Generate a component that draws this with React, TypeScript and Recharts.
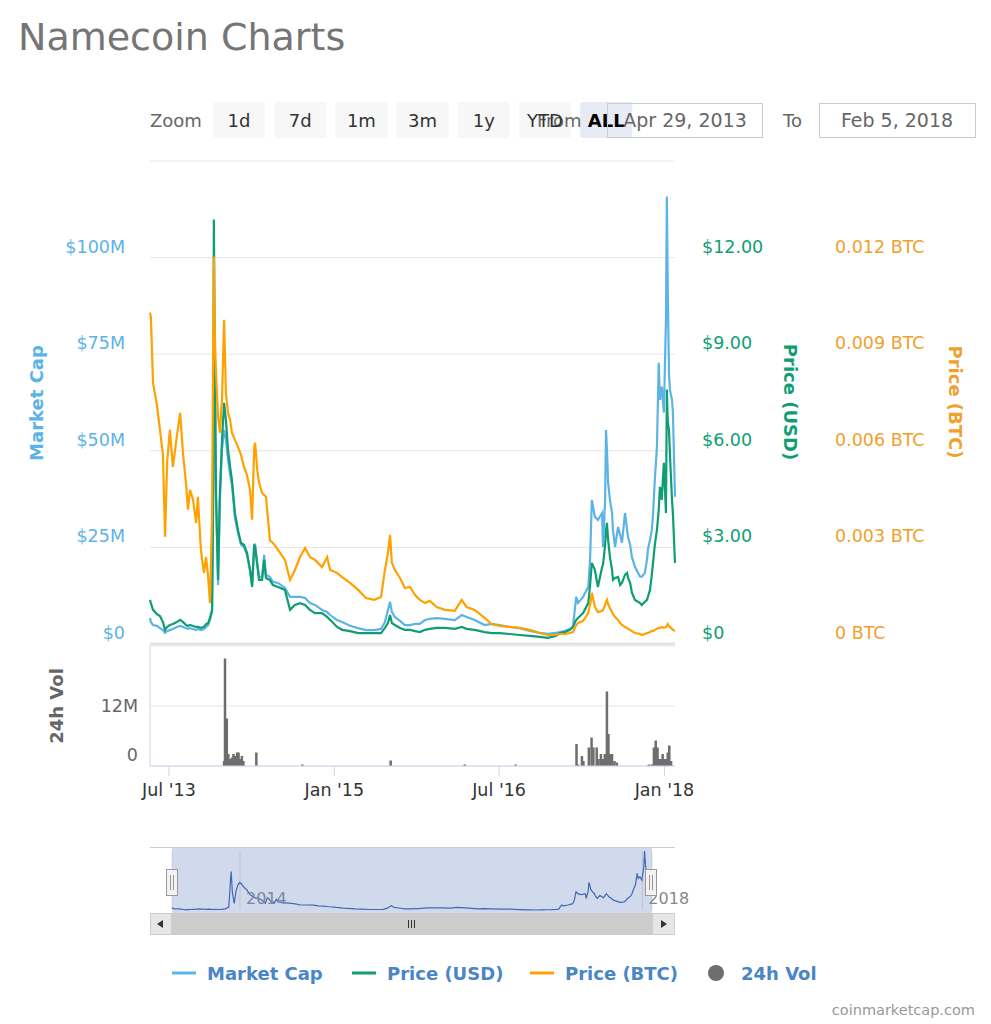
import React from "react";
import { LineChart, Line, XAxis, YAxis, CartesianGrid, ComposedChart, Bar, ReferenceLine } from "recharts";

// daily-ish samples
const dates = [
  "2013-04-29", "2013-05-02", "2013-05-09", "2013-05-22", "2013-06-01", "2013-06-11", "2013-06-18", "2013-06-25",
  "2013-07-04", "2013-07-14", "2013-07-27", "2013-08-07", "2013-08-17", "2013-08-27", "2013-09-02", "2013-09-09",
  "2013-09-19", "2013-09-29", "2013-10-05", "2013-10-15", "2013-10-25", "2013-11-01", "2013-11-08", "2013-11-14",
  "2013-11-21", "2013-11-24", "2013-11-27", "2013-11-30", "2013-12-04", "2013-12-11", "2013-12-17", "2013-12-24",
  "2013-12-31", "2014-01-06", "2014-01-13", "2014-01-20", "2014-01-26", "2014-02-05", "2014-02-15", "2014-02-25",
  "2014-03-07", "2014-03-17", "2014-03-27", "2014-04-03", "2014-04-10", "2014-04-13", "2014-04-20", "2014-04-26",
  "2014-05-06", "2014-05-13", "2014-05-19", "2014-06-01", "2014-06-11", "2014-06-28", "2014-07-21", "2014-08-07",
  "2014-08-23", "2014-09-09", "2014-09-26", "2014-10-12", "2014-10-29", "2014-11-21", "2014-12-08", "2014-12-18",
  "2015-01-10", "2015-01-27", "2015-02-22", "2015-03-21", "2015-04-16", "2015-05-13", "2015-06-05", "2015-06-18",
  "2015-06-28", "2015-07-05", "2015-07-11", "2015-07-21", "2015-08-07", "2015-08-23", "2015-09-09", "2015-09-26",
  "2015-10-12", "2015-10-29", "2015-11-14", "2015-12-07", "2016-01-03", "2016-02-05", "2016-02-28", "2016-03-15",
  "2016-04-11", "2016-05-14", "2016-06-06", "2016-07-03", "2016-08-05", "2016-09-07", "2016-10-11", "2016-11-13",
  "2016-12-10", "2017-01-05", "2017-01-19", "2017-02-05", "2017-02-21", "2017-03-03", "2017-03-14", "2017-03-20",
  "2017-04-06", "2017-04-23", "2017-04-29", "2017-05-05", "2017-05-15", "2017-05-25", "2017-06-08", "2017-06-11",
  "2017-06-18", "2017-06-21", "2017-06-24", "2017-06-28", "2017-07-04", "2017-07-11", "2017-07-14", "2017-07-21",
  "2017-07-31", "2017-08-07", "2017-08-13", "2017-08-23", "2017-08-30", "2017-09-02", "2017-09-09", "2017-09-15",
  "2017-09-25", "2017-10-12", "2017-10-18", "2017-10-28", "2017-11-04", "2017-11-07", "2017-11-14", "2017-11-20",
  "2017-11-24", "2017-11-30", "2017-12-07", "2017-12-13", "2017-12-17", "2017-12-23", "2017-12-30", "2018-01-06",
  "2018-01-09", "2018-01-12", "2018-01-16", "2018-01-19", "2018-01-26", "2018-01-29", "2018-02-05",
];

// $M
const marketCap = [
  6.7, 5.7, 4.9, 4.7, 4.1, 3.6, 2.9, 3.4,
  3.6, 3.9, 4.4, 4.7, 4.4, 4.1, 3.9, 4.1,
  3.9, 3.6, 3.9, 3.6, 3.9, 4.4, 4.9, 6.2,
  8.3, 29.5, 58.0, 76.2, 37.3, 15.3, 37.3, 50.3,
  55.4, 52.9, 47.7, 43.8, 41.2, 32.6, 28.8, 25.7,
  25.1, 23.1, 19.2, 15.3, 25.7, 25.7, 21.0, 17.4,
  17.4, 23.1, 17.9, 17.4, 16.1, 15.8, 14.5, 12.2,
  12.2, 12.2, 11.9, 10.6, 10.1, 8.8, 8.3, 7.5,
  6.2, 5.7, 4.7, 4.1, 3.6, 3.6, 3.9, 5.7,
  8.8, 10.9, 8.3, 7.0, 6.0, 4.9, 4.9, 5.2,
  5.2, 6.2, 6.5, 6.7, 6.5, 6.2, 7.5, 7.0,
  6.2, 4.9, 5.2, 4.9, 4.4, 4.1, 3.4, 2.9,
  2.6, 2.9, 3.1, 3.4, 3.9, 4.4, 12.2, 10.6,
  12.2, 14.8, 21.8, 37.3, 32.9, 32.1, 33.9, 25.1,
  37.3, 55.4, 50.3, 41.7, 37.3, 33.9, 29.5, 25.1,
  30.3, 28.2, 26.2, 33.9, 29.5, 27.7, 25.7, 22.5,
  20.0, 17.4, 17.4, 18.4, 21.8, 24.4, 26.9, 29.5,
  33.4, 42.5, 51.0, 72.8, 63.2, 66.6, 59.9, 83.9,
  115.8, 91.7, 70.2, 65.8, 63.2, 59.9, 38.1,
];

const priceUsd = [
  1.37, 1.27, 1.06, 0.93, 0.87, 0.68, 0.44, 0.53,
  0.59, 0.62, 0.68, 0.75, 0.68, 0.59, 0.56, 0.59,
  0.56, 0.53, 0.53, 0.5, 0.53, 0.62, 0.65, 0.81,
  1.06, 3.95, 13.18, 9.14, 4.79, 1.99, 4.69, 6.34,
  7.49, 6.96, 6.03, 5.5, 5.1, 4.07, 3.54, 3.14,
  3.08, 2.83, 2.3, 1.77, 3.08, 3.02, 2.46, 1.99,
  1.99, 2.61, 2.05, 1.99, 1.83, 1.77, 1.68, 1.06,
  1.21, 1.27, 1.21, 1.06, 0.96, 0.96, 0.84, 0.75,
  0.53, 0.44, 0.4, 0.34, 0.34, 0.34, 0.34, 0.5,
  0.65, 0.9, 0.65, 0.59, 0.5, 0.44, 0.44, 0.4,
  0.37, 0.44, 0.47, 0.5, 0.5, 0.47, 0.53, 0.47,
  0.44, 0.37, 0.34, 0.34, 0.31, 0.28, 0.25, 0.22,
  0.19, 0.25, 0.34, 0.37, 0.44, 0.53, 0.75, 0.81,
  0.96, 1.27, 1.83, 2.52, 2.3, 1.77, 2.39, 2.46,
  3.08, 3.54, 3.76, 3.23, 2.7, 2.3, 1.99, 2.05,
  2.08, 1.83, 1.9, 2.15, 2.21, 2.05, 1.9, 1.59,
  1.37, 1.27, 1.21, 1.31, 1.37, 1.46, 1.68, 2.15,
  2.52, 3.08, 3.54, 4.17, 4.88, 4.48, 5.63, 4.07,
  7.9, 6.9, 6.65, 5.94, 4.48, 4.07, 2.52,
];

const priceBtc = [
  0.01029, 0.01014, 0.00811, 0.00743, 0.00665, 0.00588, 0.00333, 0.00566,
  0.00665, 0.0055, 0.00644, 0.00718, 0.00588, 0.00494, 0.00417, 0.00479,
  0.00448, 0.00376, 0.00457, 0.00292, 0.00221, 0.0027, 0.00208, 0.00127,
  0.00395, 0.00799, 0.01203, 0.00967, 0.00843, 0.00706, 0.00656, 0.00759,
  0.01007, 0.0078, 0.00718, 0.00696, 0.00656, 0.00634, 0.00612, 0.00588,
  0.0055, 0.00525, 0.00479, 0.00386, 0.00612, 0.00625, 0.00541, 0.00501,
  0.00469, 0.00463, 0.00457, 0.00323, 0.00314, 0.00292, 0.00261, 0.00199,
  0.0023, 0.0027, 0.00298, 0.0027, 0.00261, 0.00239, 0.0027, 0.0023,
  0.00221, 0.00208, 0.0019, 0.00168, 0.00143, 0.00137, 0.00146, 0.0023,
  0.00283, 0.00339, 0.00252, 0.0023, 0.00205, 0.00174, 0.00177, 0.00152,
  0.00137, 0.00127, 0.00134, 0.00115, 0.00106, 0.00103, 0.00137, 0.00115,
  0.00106, 0.00081, 0.00062, 0.00056, 0.00053, 0.0005, 0.00044, 0.00034,
  0.00028, 0.00028, 0.00031, 0.00031, 0.00034, 0.00037, 0.00059, 0.00065,
  0.00072, 0.00096, 0.00121, 0.00159, 0.00115, 0.00099, 0.00103, 0.00106,
  0.00121, 0.00131, 0.00137, 0.00124, 0.00112, 0.00099, 0.00093, 0.00084,
  0.00075, 0.00065, 0.00059, 0.00053, 0.0005, 0.00047, 0.00044, 0.0004,
  0.00034, 0.00031, 0.00028, 0.00031, 0.00034, 0.00034, 0.00037, 0.0004,
  0.0004, 0.00044, 0.00047, 0.0005, 0.0005, 0.00053, 0.0005, 0.00053,
  0.00056, 0.00062, 0.00056, 0.00053, 0.00047, 0.00044, 0.0004,
];

// 24h volume, $M
const volDates = [
  "2013-12-31", "2014-01-03", "2014-01-09", "2014-01-14", "2014-01-20", "2014-01-26", "2014-01-31", "2014-02-05",
  "2014-02-12", "2014-02-17", "2014-02-22", "2014-02-28", "2014-03-05", "2014-04-17", "2014-09-17", "2015-07-07",
  "2016-03-09", "2016-08-25", "2017-03-15", "2017-03-20", "2017-04-02", "2017-04-07", "2017-04-25", "2017-05-04",
  "2017-05-10", "2017-05-21", "2017-05-27", "2017-06-04", "2017-06-11", "2017-06-17", "2017-06-24", "2017-06-29",
  "2017-07-05", "2017-07-11", "2017-07-19", "2017-07-27", "2017-11-10", "2017-11-20", "2017-11-27", "2017-12-03",
  "2017-12-09", "2017-12-14", "2017-12-21", "2017-12-26", "2017-12-31", "2018-01-06", "2018-01-12", "2018-01-17",
  "2018-01-23",
];
const volume = [
  1.0, 21.5, 9.5, 2.4, 1.4, 1.7, 2.4, 2.0,
  2.7, 2.7, 1.4, 2.0, 1.0, 2.7, 0.3, 1.1,
  0.3, 0.3, 4.4, 0.3, 2.0, 1.0, 3.7, 5.7,
  3.7, 3.7, 1.4, 2.4, 1.4, 2.4, 14.9, 6.4,
  2.4, 2.4, 1.0, 0.7, 0.3, 0.3, 3.7, 5.1,
  3.7, 1.4, 1.4, 2.4, 1.4, 1.4, 2.7, 4.1,
  1.0,
];

const mcTicks = [0, 25, 50, 75, 100, 125];
const mcLabels = ["$0", "$25M", "$50M", "$75M", "$100M", ""];
const usdTicks = [0, 3, 6, 9, 12, 15];
const usdLabels = ["$0", "$3.00", "$6.00", "$9.00", "$12.00", ""];
const btcTicks = [0, 0.003, 0.006, 0.009, 0.012, 0.015];
const btcLabels = ["0 BTC", "0.003 BTC", "0.006 BTC", "0.009 BTC", "0.012 BTC", ""];
const volTicks = [0, 12, 24];
const volLabels = ["0", "12M", ""];
const timeTicks = ["2013-07-01", "2015-01-01", "2016-07-01", "2018-01-01"];
const timeLabels = ["Jul '13", "Jan '15", "Jul '16", "Jan '18"];
const navTicks = ["2014-01-01", "2018-01-01"];
const navLabels = ["2014", "2018"];
const zoomButtons = ["1d", "7d", "1m", "3m", "1y", "YTD", "ALL"];
const legendNames = ["Market Cap", "Price (USD)", "Price (BTC)", "24h Vol"];

const FONT = "'DejaVu Sans', Verdana, sans-serif";
const C_MC = "#5cb3e6";
const C_USD = "#0f9e73";
const C_BTC = "#ffa200";
const C_BTC_TEXT = "#f0a02c";
const C_VOL = "#6e6e6e";

const T0 = Date.parse("2013-04-29");
const T1 = Date.parse("2018-02-05");

function makeTick(ticks: number[], labels: string[], dx: number, dy: (v: number) => number, anchor: string, color: string, size = 17.5) {
  return (props: any) => {
    const v = props.payload.value;
    const label = labels[ticks.indexOf(v)];
    if (!label) return <g />;
    return (
      <text x={props.x + dx} y={props.y + dy(v)} textAnchor={anchor} fill={color} fontSize={size} fontFamily={FONT}>
        {label}
      </text>
    );
  };
}

// volume column: keep library x/height, draw a fixed-width column centred on the point
const VolBar = (p: any) => {
  if (!p.height || p.height <= 0) return <g />;
  const cx = p.x + p.width / 2;
  return <rect x={cx - 1.25} y={p.y} width={2.5} height={p.height} fill={C_VOL} />;
};

export default function App() {
  const rows = dates.map((d, i) => ({ t: Date.parse(d), mc: marketCap[i], usd: priceUsd[i], btc: priceBtc[i] }));
  const volRows = volDates.map((d, i) => ({ t: Date.parse(d), v: volume[i] }));
  const timeTs = timeTicks.map((d) => Date.parse(d));
  const navTs = navTicks.map((d) => Date.parse(d));

  const timeTick = (props: any) => {
    const i = timeTs.indexOf(props.payload.value);
    return (
      <text x={props.x} y={props.y + 20} textAnchor="middle" fill="#333" fontSize={17.5} fontFamily={FONT}>
        {timeLabels[i]}
      </text>
    );
  };
  const navTick = (props: any) => {
    const i = navTs.indexOf(props.payload.value);
    return (
      <text x={props.x + 6} y={props.y - 6} textAnchor="start" fill="#888" fontSize={16} fontFamily={FONT}>
        {navLabels[i]}
      </text>
    );
  };

  const legendX = [172, 352, 530, 708];
  const legendColors = [C_MC, C_USD, C_BTC, C_VOL];

  return (
    <div style={{ position: "absolute", left: 0, top: 0, width: 991, height: 1024, background: "#fff", fontFamily: FONT }}>
      {/* main price / market cap panel */}
      <div style={{ position: "absolute", left: 0, top: 0 }}>
        <LineChart width={991} height={650} data={rows} margin={{ top: 161, right: 0, bottom: 6, left: 0 }}>
          <CartesianGrid yAxisId="mc" vertical={false} stroke="#e6e6e6" />
          <XAxis dataKey="t" type="number" domain={[T0, T1]} hide />
          <YAxis yAxisId="mc" width={150} domain={[0, 125]} ticks={mcTicks} axisLine={false} tickLine={false} tickSize={0} tickMargin={0}
            tick={makeTick(mcTicks, mcLabels, -25, () => -5, "end", C_MC)} interval={0} />
          <YAxis yAxisId="r1" orientation="right" width={160} domain={[0, 15]} ticks={usdTicks} axisLine={false} tickLine={false} tickSize={0} tickMargin={0}
            tick={makeTick(usdTicks, usdLabels, 27, () => -5, "start", C_USD)} interval={0} />
          <YAxis yAxisId="r2" orientation="right" width={156} domain={[0, 0.015]} ticks={btcTicks} axisLine={false} tickLine={false} tickSize={0} tickMargin={0}
            tick={makeTick(btcTicks, btcLabels, 0, () => -5, "start", C_BTC_TEXT)} interval={0} />
          <ReferenceLine yAxisId="mc" y={0} stroke="#e3e3e3" strokeWidth={3} />
          <Line yAxisId="mc" type="linear" dataKey="mc" stroke={C_MC} strokeWidth={2.2} dot={false} activeDot={false} isAnimationActive={false} />
          <Line yAxisId="r1" type="linear" dataKey="usd" stroke={C_USD} strokeWidth={2.2} dot={false} activeDot={false} isAnimationActive={false} />
          <Line yAxisId="r2" type="linear" dataKey="btc" stroke={C_BTC} strokeWidth={2.2} dot={false} activeDot={false} isAnimationActive={false} />
        </LineChart>
      </div>

      {/* volume panel */}
      <div style={{ position: "absolute", left: 0, top: 0 }}>
        <ComposedChart width={991} height={806} data={volRows} margin={{ top: 646, right: 316, bottom: 0, left: 0 }}>
          <CartesianGrid vertical={false} stroke="#e6e6e6" />
          <XAxis dataKey="t" type="number" domain={[T0, T1]} ticks={timeTs} interval={0} height={40} tickSize={10} tickMargin={0}
            axisLine={{ stroke: "#ccd6eb" }} tickLine={{ stroke: "#ccd6eb" }} tick={timeTick} />
          <YAxis width={150} domain={[0, 24]} ticks={volTicks} interval={0} axisLine={{ stroke: "#ccd6eb" }} tickLine={false} tickSize={0} tickMargin={0}
            tick={makeTick(volTicks, volLabels, -12, (v) => (v === 0 ? -5 : 6), "end", "#666")} />
          <Bar dataKey="v" fill={C_VOL} shape={VolBar} isAnimationActive={false} />
        </ComposedChart>
      </div>

      {/* navigator */}
      <div style={{ position: "absolute", left: 0, top: 0 }}>
        <LineChart width={991} height={912} data={rows} margin={{ top: 851, right: 339, bottom: 1, left: 172 }}>
          <CartesianGrid horizontal={false} stroke="#e0e0e0" />
          <XAxis dataKey="t" type="number" domain={[T0, T1]} ticks={navTs} interval={0} height={1} tickSize={0} tickMargin={0}
            axisLine={false} tickLine={false} tick={navTick} />
          <YAxis hide domain={["dataMin", "dataMax"]} />
          <Line type="linear" dataKey="mc" stroke="#335cad" strokeWidth={1.2} dot={false} activeDot={false} isAnimationActive={false} />
        </LineChart>
      </div>

      {/* decorations and text */}
      <svg width={991} height={1024} style={{ position: "absolute", left: 0, top: 0, pointerEvents: "none" }} fontFamily={FONT}>
        <text x={18} y={50} fontSize={38} fill="#757575">Namecoin Charts</text>

        <text x={150} y={127} fontSize={18} fill="#666">Zoom</text>
        {zoomButtons.map((b, i) => (
          <rect key={"b" + b} x={213 + i * 61.2} y={102} width={52} height={36} rx={2} fill={b === "ALL" ? "#e6ebf5" : "#f7f7f7"} />
        ))}
        <text x={537} y={127} fontSize={18} fill="#666">From</text>
        {zoomButtons.map((b, i) => (
          <text key={"t" + b} x={239 + i * 61.2} y={127} fontSize={18} textAnchor="middle" fill={b === "ALL" ? "#000" : "#333"} fontWeight={b === "ALL" ? "bold" : "normal"}>
            {b}
          </text>
        ))}
        <rect x={607.5} y={103.5} width={155} height={34} fill="none" stroke="#cccccc" />
        <text x={685} y={127} fontSize={19} textAnchor="middle" fill="#666">Apr 29, 2013</text>
        <text x={783} y={127} fontSize={18} fill="#666">To</text>
        <rect x={819.5} y={103.5} width={156} height={34} fill="none" stroke="#cccccc" />
        <text x={897} y={127} fontSize={19} textAnchor="middle" fill="#666">Feb 5, 2018</text>

        <text transform="translate(43,403) rotate(-90)" fontSize={18} fontWeight="bold" textAnchor="middle" fill={C_MC}>Market Cap</text>
        <text transform="translate(784,402) rotate(90)" fontSize={18} fontWeight="bold" textAnchor="middle" fill={C_USD}>Price (USD)</text>
        <text transform="translate(949,402) rotate(90)" fontSize={18} fontWeight="bold" textAnchor="middle" fill={C_BTC_TEXT}>Price (BTC)</text>
        <text transform="translate(63,706) rotate(-90)" fontSize={18} fontWeight="bold" textAnchor="middle" fill="#666">24h Vol</text>

        {/* navigator chrome */}
        <line x1={150} y1={847.5} x2={675} y2={847.5} stroke="#cccccc" />
        <rect x={172} y={848} width={480} height={65} fill="rgba(102,133,194,0.3)" />
        {[166.5, 645.5].map((hx) => (
          <g key={hx}>
            <rect x={hx} y={869.5} width={11} height={26} fill="#f2f2f2" stroke="#999" />
            <line x1={hx + 4} y1={875} x2={hx + 4} y2={890} stroke="#999" />
            <line x1={hx + 7} y1={875} x2={hx + 7} y2={890} stroke="#999" />
          </g>
        ))}
        <rect x={150} y={913} width={525} height={22} fill="#f2f2f2" />
        <rect x={172} y={913} width={480} height={22} fill="#cccccc" />
        <rect x={150.5} y={913.5} width={21} height={21} fill="#e6e6e6" stroke="#cccccc" />
        <rect x={652.5} y={913.5} width={22} height={21} fill="#e6e6e6" stroke="#cccccc" />
        <path d="M163,920 L157,924 L163,928 Z" fill="#333" />
        <path d="M661,920 L667,924 L661,928 Z" fill="#333" />
        {[408, 411, 414].map((gx) => (
          <line key={gx} x1={gx + 0.5} y1={920} x2={gx + 0.5} y2={928} stroke="#333" />
        ))}

        {/* legend */}
        {legendNames.map((n, i) => (
          <g key={n}>
            {i < 3 ? (
              <line x1={legendX[i]} y1={973} x2={legendX[i] + 24} y2={973} stroke={legendColors[i]} strokeWidth={3} />
            ) : (
              <circle cx={legendX[i] + 8} cy={973} r={8} fill={legendColors[i]} />
            )}
            <text x={legendX[i] + (i < 3 ? 35 : 33)} y={980} fontSize={18} fontWeight="bold" fill="#4a86c5">{n}</text>
          </g>
        ))}

        <text x={975} y={1015} fontSize={14.5} textAnchor="end" fill="#999">coinmarketcap.com</text>
      </svg>
    </div>
  );
}
